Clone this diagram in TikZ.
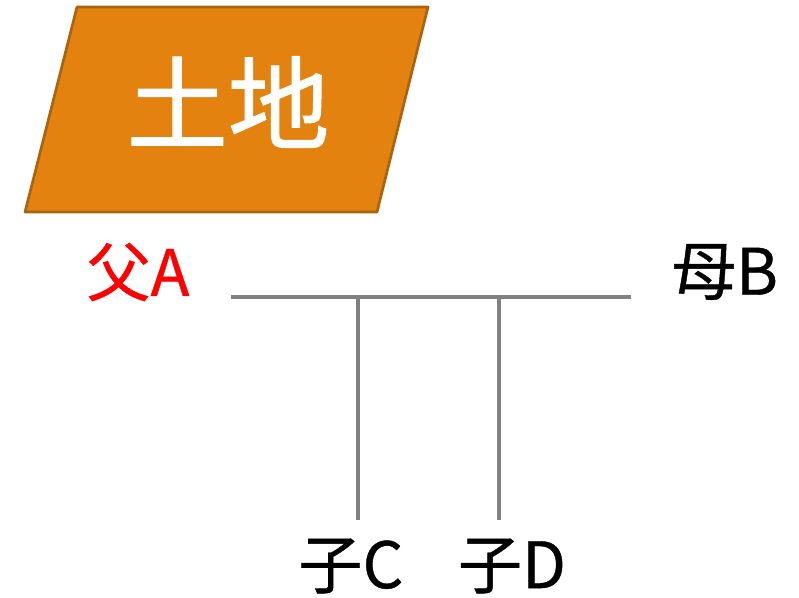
\documentclass[tikz,border=0pt]{standalone}
\usepackage{fontspec}
\setmainfont{Noto Sans CJK JP}
\newfontfamily\cjkbig[FakeBold=1.2]{Noto Sans CJK JP}
\newfontfamily\cjklbl[FakeBold=0.6]{Noto Sans CJK JP}
\definecolor{landfill}{HTML}{E3820F}
\definecolor{landdraw}{HTML}{A8640F}
\definecolor{famline}{HTML}{808080}
\tikzset{
  lbl/.style={inner sep=0pt, font=\cjklbl\fontsize{48}{52}\selectfont},
  famedge/.style={draw=famline, line width=2.4pt},
}
\begin{document}
\begin{tikzpicture}[x=0.75pt,y=-0.75pt]
\useasboundingbox (0,0) rectangle (799,597);
% parallelogram
\draw[fill=landfill, draw=landdraw, line width=2pt, line join=round]
  (77,7) -- (428,7) -- (377,212) -- (25,212) -- cycle;
\node[inner sep=0pt, text=white, font=\cjkbig\fontsize{76}{80}\selectfont] (land) at (228,102) {土地};
% labels
\node[lbl, text=red] (fa) at (138,272) {父A};
\node[lbl] (mb) at (725,272) {母B};
\node[lbl] (cc) at (351,566) {子C};
\node[lbl] (cd) at (512,566) {子D};
% connectors
\coordinate (l) at (231,297);
\coordinate (r) at (631,297);
\coordinate (j1) at (358,297);
\coordinate (j2) at (499,297);
\coordinate (e1) at (358,520);
\coordinate (e2) at (499,520);
\draw[famedge] (l) -- (r);
\draw[famedge] (j1) -- (e1);
\draw[famedge] (j2) -- (e2);
\end{tikzpicture}
\end{document}
